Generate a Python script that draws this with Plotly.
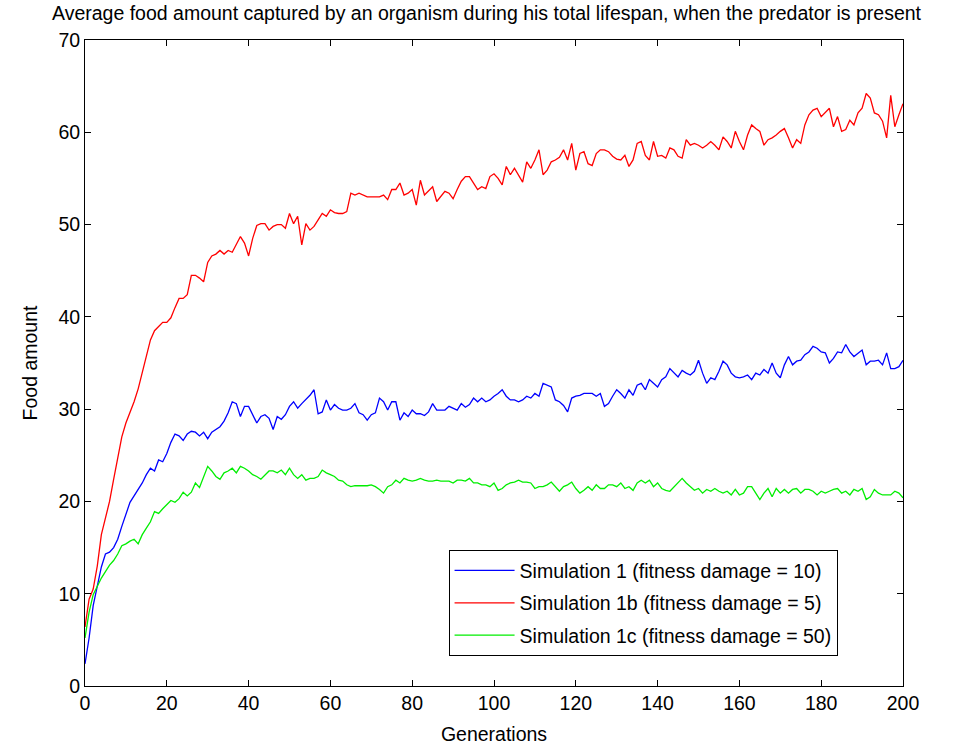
import plotly.graph_objects as go

# Values (generation 0..200)
sim1 = [
    2.4, 5.2, 8.7, 10.8, 12.9, 14.3, 14.5, 15, 15.9, 17.3,
    18.7, 19.9, 20.6, 21.3, 22, 22.9, 23.6, 23.3, 24.5, 24.3,
    25.2, 26.4, 27.3, 27.1, 26.6, 27.3, 27.6, 27.5, 27.1, 27.5,
    26.8, 27.5, 27.8, 28.1, 28.7, 29.6, 30.8, 30.6, 29.2, 30.3,
    30.3, 29.4, 28.5, 29.2, 29.4, 29, 27.8, 29.2, 28.9, 29.4,
    30.3, 30.8, 30.1, 30.6, 31, 31.5, 32.1, 29.5, 29.7, 31,
    29.9, 30.5, 30.1, 29.9, 29.9, 30.1, 30.6, 29.6, 29.4, 28.8,
    29.4, 29.6, 31.2, 30.8, 29.9, 30.8, 30.8, 28.8, 29.6, 29.2,
    29.9, 29.5, 29.5, 29.3, 29.7, 30.6, 29.9, 29.9, 29.9, 30.3,
    30.1, 29.9, 30.6, 30.2, 30.5, 31.2, 30.8, 31.2, 30.8, 31,
    31.4, 31.7, 32.1, 31.4, 31, 31, 30.8, 31, 31.4, 31.2,
    31.7, 31.4, 32.8, 32.6, 32.4, 31, 30.8, 30.4, 29.7, 31.2,
    31.4, 31.5, 31.7, 31.7, 31.7, 31.4, 31.7, 30.3, 30.6, 31.4,
    32.1, 31.7, 31.2, 32.1, 31.5, 32.6, 32.8, 32.1, 33.2, 32.8,
    32.4, 33.2, 33.5, 34.4, 33.9, 33.5, 34.2, 33.9, 33.7, 34.1,
    35.3, 33.9, 32.8, 33.4, 33.2, 34.1, 35.2, 34.8, 33.9, 33.5,
    33.4, 33.5, 33.7, 33.2, 33.9, 33.7, 34.3, 33.9, 35, 33.9,
    33.4, 34.8, 35.7, 34.8, 35.2, 35.3, 35.9, 36.2, 36.8, 36.6,
    36.2, 36.1, 35, 35.5, 36.2, 36.1, 37, 36.2, 35.7, 36.1,
    36.4, 34.8, 35.2, 35.2, 35.3, 34.8, 36.1, 34.4, 34.4, 34.6,
    35.3,
]

sim1b = [
    6.4, 9.4, 10.5, 13, 16.4, 18.2, 20, 22.4, 24.7, 27,
    28.5, 29.6, 30.8, 32.2, 34, 35.9, 37.5, 38.5, 38.9, 39.4,
    39.4, 39.9, 41, 42, 42, 42.4, 44.5, 44.5, 44.2, 43.8,
    45.9, 46.6, 46.8, 47.2, 46.8, 47.2, 47, 47.8, 48.7, 48,
    46.6, 48.5, 49.9, 50.1, 50.1, 49.4, 49.8, 50, 50, 49.6,
    51.2, 50.1, 50.9, 47.8, 50.1, 49.4, 49.8, 50.5, 51.2, 50.9,
    51.6, 51.3, 51.2, 51.2, 51.4, 53.4, 53.2, 53.4, 53.2, 53,
    53, 53, 53, 53.2, 52.7, 53.8, 53.8, 54.5, 53.2, 53.4,
    53.8, 52.1, 54.8, 53.2, 53.6, 54.1, 52.5, 53, 53.6, 53.4,
    52.8, 53.8, 54.7, 55.2, 55.2, 54.5, 53.8, 54.1, 53.9, 55.2,
    55.5, 55, 54.3, 56.3, 55.4, 56.1, 55.4, 54.6, 56.8, 56.1,
    57, 58.1, 55.4, 55.9, 56.8, 57, 57.3, 58.1, 57, 58.8,
    55.9, 57.7, 57.9, 56.6, 56.4, 57.7, 58.1, 58.1, 57.9, 57.4,
    57.1, 57, 57.5, 56.3, 57, 58.8, 59, 57.5, 57, 59,
    57.4, 57.5, 57.2, 58.3, 58.1, 57.4, 57.2, 59.2, 58.6, 58.8,
    58.6, 58.3, 58.6, 59, 58.6, 58.1, 59.5, 59, 58.3, 60.1,
    59, 58.1, 59.7, 60.8, 60.4, 60.1, 58.6, 59.2, 59.4, 59.7,
    60.1, 60.4, 59.4, 58.3, 59.2, 58.8, 60.8, 61.9, 62.4, 62.6,
    61.7, 62.1, 62.6, 60.6, 61.7, 60.1, 60.3, 61.3, 60.8, 62.1,
    62.6, 64.2, 63.7, 62.1, 61.9, 61.2, 59.4, 64, 60.6, 61.9,
    63.1,
]

sim1c = [
    5.2, 8, 9.9, 10.8, 11.7, 12.4, 13.1, 13.6, 14.3, 15.2,
    15.4, 15.7, 15.9, 15.4, 16.4, 17.1, 17.8, 18.9, 18.7, 19.2,
    19.6, 20.1, 19.9, 20.3, 21, 20.6, 21, 22, 21.5, 22.7,
    23.8, 23.3, 22.7, 22.4, 23.1, 23.3, 23.6, 23.1, 23.8, 23.6,
    23.3, 22.9, 22.7, 22.4, 22.9, 23.3, 23.3, 23.1, 23.4, 22.9,
    23.6, 22.9, 22.5, 22.9, 22.3, 22.5, 22.5, 22.7, 23.4, 23.1,
    22.9, 22.7, 22.3, 22.2, 21.8, 21.6, 21.7, 21.7, 21.7, 21.7,
    21.8, 21.6, 21.3, 20.9, 21.6, 21.8, 22.3, 22, 22.5, 22.3,
    22.2, 22.3, 22.5, 22.3, 22.2, 22.2, 22.3, 22.2, 22.2, 22.2,
    22, 22.3, 22.3, 22.2, 22.5, 22, 22, 21.8, 21.8, 21.6,
    22, 21.2, 21.4, 21.8, 22, 22.1, 22.3, 22.1, 22.1, 22,
    21.4, 21.6, 21.6, 21.8, 22.1, 21.6, 21.1, 21.6, 21.8, 22.1,
    21.4, 20.9, 21.2, 21.6, 21.2, 21.8, 21.4, 21.4, 21.8, 21.8,
    21.6, 22, 21.4, 21.6, 21.2, 22, 22.3, 22, 22.3, 21.6,
    22, 21.4, 21.2, 21.1, 21.6, 22.1, 22.5, 22, 21.6, 21.2,
    21.4, 20.9, 21.3, 21.1, 21.4, 21.1, 20.9, 21.1, 20.7, 21.3,
    20.7, 20.9, 21.6, 21.6, 20.9, 20.2, 20.9, 21.4, 20.5, 21.4,
    20.9, 21.3, 20.9, 21.3, 21.4, 20.9, 21.3, 21.3, 21.1, 20.7,
    21.1, 20.9, 21.1, 21.3, 21.4, 20.9, 21.1, 20.7, 21.3, 21.1,
    21.4, 20.2, 20.5, 21.3, 20.9, 20.7, 20.7, 20.7, 21.1, 20.9,
    20.4,
]

series_names = [
    "Simulation 1 (fitness damage = 10)",
    "Simulation 1b (fitness damage = 5)",
    "Simulation 1c (fitness damage = 50)",
]
series_values = [sim1, sim1b, sim1c]
series_colors = ["#0000ff", "#ff0000", "#00ee00"]

title_text = "Average food amount captured by an organism during his total lifespan, when the predator is present"
x_label = "Generations"
y_label = "Food amount"

FONT = "Liberation Sans, Arial, sans-serif"
FS = 19.5

fig = go.Figure()
for i, (name, vals, col) in enumerate(zip(series_names, series_values, series_colors)):
    fig.add_trace(go.Scatter(
        x=list(range(len(vals))), y=vals, mode="lines", name=name,
        line=dict(color=col, width=1.3), legendgroup=f"g{i}",
    ))

axis_common = dict(
    showline=True, linecolor="black", linewidth=1, mirror="ticks",
    ticks="inside", ticklen=6, tickcolor="black", tickwidth=1,
    showgrid=False, zeroline=False, automargin=False,
    tickfont=dict(family=FONT, size=FS, color="black"),
)

fig.update_layout(
    width=973, height=749,
    margin=dict(l=85, r=70, t=40, b=63),
    paper_bgcolor="white", plot_bgcolor="white",
    title=dict(text=title_text, x=0.5, xanchor="center", y=0.991, yanchor="top",
               font=dict(family=FONT, size=FS, color="black")),
    xaxis=dict(range=[0, 200], dtick=20, tick0=0,
               title=dict(text=x_label, font=dict(family=FONT, size=FS, color="black"), standoff=13),
               **axis_common),
    yaxis=dict(range=[0, 70], dtick=10, tick0=0,
               title=dict(text=y_label, font=dict(family=FONT, size=FS, color="black"), standoff=15),
               **axis_common),
    legend=dict(x=0.92, y=0.046, xanchor="right", yanchor="bottom",
                bgcolor="white", bordercolor="black", borderwidth=1,
                font=dict(family=FONT, size=FS, color="black"),
                tracegroupgap=4, traceorder="grouped", itemwidth=60),
    showlegend=True,
)

fig.write_html("out.html")
